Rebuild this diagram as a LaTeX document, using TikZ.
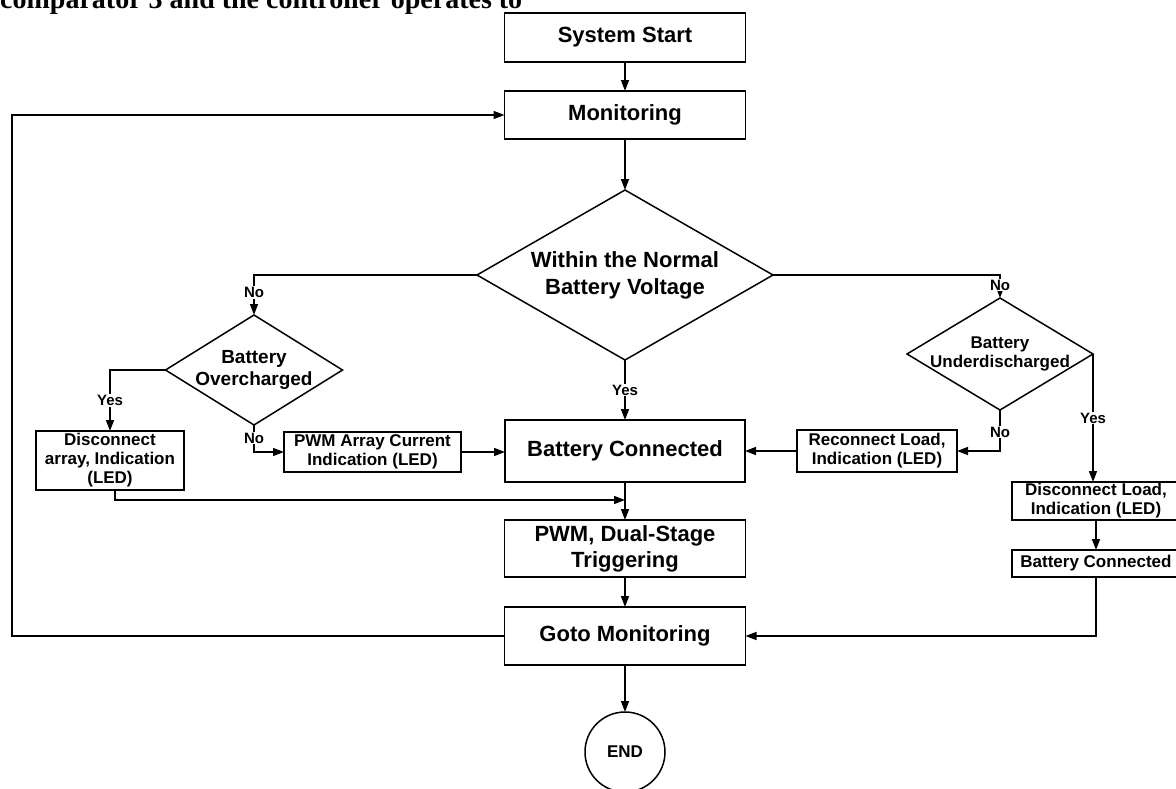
\documentclass[tikz,border=0pt]{standalone}
\usepackage{fontspec}
\setmainfont{Liberation Sans}
\newfontfamily\scanserif{Liberation Serif}
\usetikzlibrary{arrows.meta,positioning,shapes.geometric}

\tikzset{
  block/.style={draw, line width=1.5pt, rectangle, inner sep=0pt, outer sep=0pt,
    align=center, font=\bfseries\fontsize{22}{26}\selectfont},
  smallblock/.style={block, font=\bfseries\fontsize{17}{19}\selectfont},
  decision/.style={draw, line width=1.5pt, diamond, inner sep=0pt, outer sep=0pt},
  dtext/.style={align=center, inner sep=0pt},
  lbl/.style={fill=white, inner sep=1pt, font=\bfseries\fontsize{15}{18}\selectfont},
  flow/.style={line width=1.5pt, -{Triangle[length=11pt,width=8pt]}},
  link/.style={line width=1.5pt},
}

\begin{document}
\begin{tikzpicture}[x=1pt, y=-1pt]
\useasboundingbox (0,0) rectangle (1176,788);
\clip (0,0) rectangle (1176,788);

% cropped line of the page text above the chart
\node[anchor=base west, inner sep=0pt, font=\scanserif\bfseries\fontsize{28}{30}\selectfont]
  (pagetext) at (0,8) {comparator 3 and the controller operates to};

% Main column
\node[block, minimum width=241pt, minimum height=49pt] (start) at (625,37.5) {System Start};
\node[block, minimum width=241pt, minimum height=48pt] (monitor) at (625,115) {Monitoring};
\node[decision, minimum width=296pt, minimum height=170pt,
  label={[dtext, font=\bfseries\fontsize{22}{27}\selectfont]center:Within the Normal\\Battery Voltage}]
  (normal) at (625,275) {};
\node[block, minimum width=240pt, minimum height=62pt] (bconn) at (625,451) {Battery Connected};
\node[block, minimum width=241pt, minimum height=57pt] (pwmdual) at (625,548.5) {PWM, Dual-Stage\\Triggering};
\node[block, minimum width=241pt, minimum height=58pt] (gotomon) at (625,636) {Goto Monitoring};
\node[draw, line width=1.5pt, circle, minimum size=80pt, inner sep=0pt, outer sep=0pt,
  font=\bfseries\fontsize{17}{20}\selectfont] (endc) at (625,752) {END};

% Left branch: overcharge
\node[decision, minimum width=177pt, minimum height=110pt,
  label={[dtext, font=\bfseries\fontsize{19}{22}\selectfont]center:Battery\\Overcharged}]
  (over) at (254,370) {};
\node[smallblock, minimum width=148pt, minimum height=59pt] (discarr) at (110,460.5)
  {Disconnect\\array, Indication\\(LED)};
\node[smallblock, minimum width=177pt, minimum height=40pt] (pwmarr) at (372.5,452)
  {PWM Array Current\\Indication (LED)};

% Right branch: underdischarge
\node[decision, minimum width=186pt, minimum height=112pt,
  label={[dtext, font=\bfseries\fontsize{17}{19}\selectfont]center:Battery\\Underdischarged}]
  (under) at (1000,354) {};
\node[smallblock, minimum width=160pt, minimum height=42pt] (reconn) at (877,451)
  {Reconnect Load,\\Indication (LED)};
\node[smallblock, minimum width=168pt, minimum height=38pt] (discload) at (1096,501)
  {Disconnect Load,\\Indication (LED)};
\node[smallblock, minimum width=168pt, minimum height=27pt] (bconnb) at (1096,563.5)
  {Battery Connected};

\coordinate (merge) at (625,500);
\coordinate (loopcorner) at (12,636);

% Connectors
\draw[flow] (start) -- (monitor);
\draw[flow] (monitor) -- (normal.north);
\draw[flow] (normal.west) -| node[lbl, pos=0.72] {No} (over.north);
\draw[flow] (normal.east) -| node[lbl, pos=0.72] {No} (under.north);
\draw[flow] (normal.south) -- node[lbl] {Yes} (bconn.north);
\draw[flow] (over.west) -| node[lbl, pos=0.75] {Yes} (discarr.north);
\draw[flow] (over.south) |- node[lbl, pos=0.24] {No} (pwmarr.west);
\draw[flow] (pwmarr.east) -- (pwmarr.east -| bconn.west);
\draw[flow] (under.south) |- node[lbl, pos=0.27] {No} (reconn.east);
\draw[flow] (reconn.west) -- (reconn.west -| bconn.east);
\draw[flow] (under.east) -- node[lbl] {Yes} (under.east |- discload.north);
\draw[flow] (discload) -- (bconnb);
\draw[flow] ([xshift=5pt]discarr.south) |- (merge);
\draw[flow] (bconn) -- (pwmdual);
\draw[flow] (pwmdual) -- (gotomon);
\draw[flow] (bconnb.south) |- (gotomon.east);
\draw[flow] (gotomon) -- (endc);
\draw[flow] (gotomon.west) -- (loopcorner) |- (monitor.west);

\end{tikzpicture}
\end{document}
